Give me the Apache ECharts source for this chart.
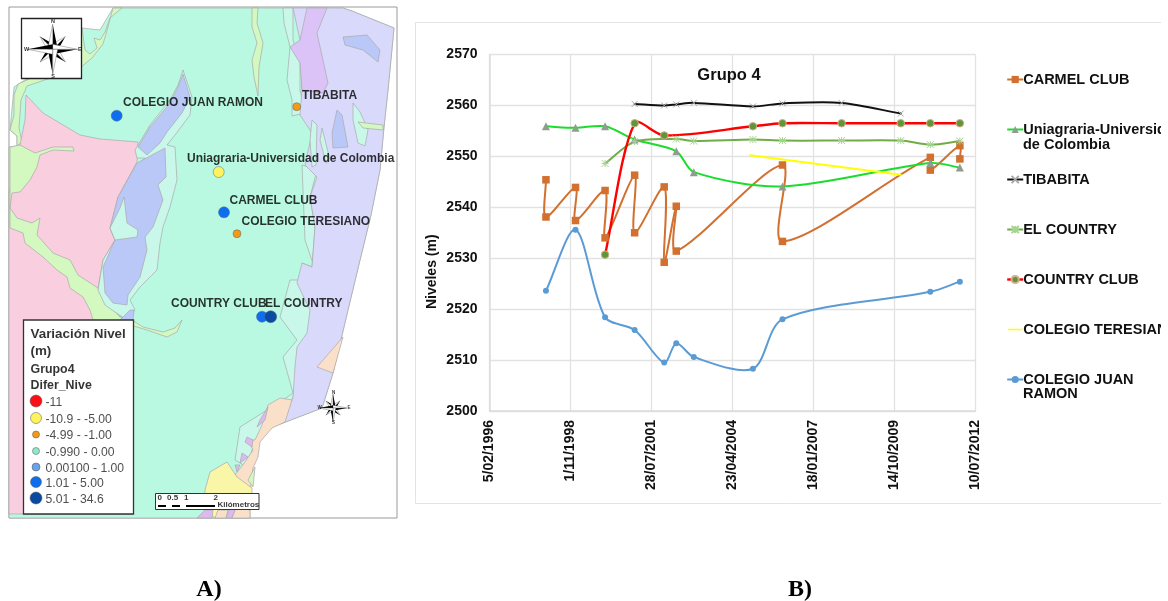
<!DOCTYPE html>
<html><head><meta charset="utf-8">
<style>html,body{margin:0;padding:0;background:#fff}#c{width:1168px;height:601px}</style>
<script src="https://cdn.jsdelivr.net/npm/echarts@6/dist/echarts.min.js"></script>
</head><body><div id="c"></div>
<script>
// ---- Chart B data: x = days since 5/02/1996, y = level (m)
const xTickLabels = ['5/02/1996','1/11/1998','28/07/2001','23/04/2004','18/01/2007','14/10/2009','10/07/2012'];
const carmelClub = [[697,2545.4],[697,2538.1],[1062,2543.9],[1062,2537.4],[1427,2543.3],[1427,2534],[1792,2546.3],[1792,2535],[2157,2544],[2157,2529.2],[2306,2540.2],[2306,2531.4],[3617,2548.3],[3617,2533.3],[5442,2549.8],[5442,2547.3],[5807,2552.1],[5807,2549.5]];
const uniagraria = [[697,2555.9],[1062,2555.6],[1427,2555.9],[1792,2553.3],[2306,2551],[2522,2546.9],[3617,2544.1],[5442,2548.7],[5807,2547.8]];
const tibabita = [[1792,2560.3],[2157,2560],[2306,2560.2],[2522,2560.5],[3252,2559.8],[3617,2560.4],[4347,2560.5],[5077,2558.4]];
const elCountry = [[1427,2548.6],[1792,2552.9],[2306,2553.4],[2522,2553],[3252,2553.3],[3617,2553.1],[4347,2553.1],[5077,2553.1],[5442,2552.3],[5807,2553]];
const countryClub = [[1427,2530.7],[1792,2556.5],[2157,2554.1],[3252,2555.9],[3617,2556.5],[4347,2556.5],[5077,2556.5],[5442,2556.5],[5807,2556.5]];
const colegioTeresiano = [[3216,2550.2],[5077,2546.4]];
const colegioJuanRamon = [[697,2523.6],[1062,2535.6],[1427,2518.4],[1792,2515.9],[2157,2509.5],[2306,2513.3],[2522,2510.6],[3252,2508.3],[3617,2518],[5442,2523.4],[5807,2525.4]];

// ---- Map A data (map sheet coordinates)
const regionLand = [[113,8],[343,8],[352,11],[394,28],[388,90],[384,127],[380,170],[371,215],[360,260],[348,310],[333,373],[322,408],[283,423],[263,430],[256,445],[253,465],[250,493],[250,518],[9,518],[9,147],[17,146],[17,136],[10,130],[14,87],[28,78],[82,60],[82,28],[100,30]];
const regionGreenNW = [[113,8],[122,8],[110,18],[105,32],[100,40],[94,38],[97,48],[90,54],[85,50],[82,28],[70,60],[27,80],[18,84],[14,95],[14,115],[10,130],[17,136],[17,146],[22,142],[19,128],[21,100],[27,86],[80,68],[92,58],[103,44],[106,34]];
const regionPink = [[26,95],[43,113],[80,135],[100,139],[138,142],[137,162],[118,197],[110,228],[115,240],[103,260],[98,288],[107,302],[120,317],[133,320],[133,514],[9,514],[9,193],[20,145],[25,120]];
const regionGreenBlob = [[10,147],[20,145],[35,153],[53,147],[73,147],[74,151],[53,150],[40,155],[37,167],[30,180],[20,192],[12,193],[10,208]];
const regionGreenDiag = [[10,208],[17,218],[32,223],[40,218],[37,235],[53,253],[70,260],[78,275],[98,288],[107,302],[120,317],[132,320],[143,327],[163,332],[175,328],[182,320],[177,332],[167,337],[147,330],[130,325],[93,320],[90,310],[83,297],[70,288],[67,277],[57,270],[43,257],[25,243],[23,233],[10,228]];
const regionPaleLake = [[135,150],[150,125],[170,100],[178,85],[183,70],[192,97],[190,115],[175,135],[167,145],[175,147],[177,180],[170,207],[163,227],[160,243],[157,270],[140,287],[130,300],[135,310],[127,320],[115,312],[105,305],[98,290],[103,260],[115,240],[137,165],[145,158],[137,158]];
const regionLakeN = [[183,74],[190,97],[182,113],[167,132],[160,143],[147,155],[138,147],[150,127],[170,103],[178,87]];
const regionLakeS = [[137,163],[165,148],[166,177],[158,185],[163,200],[153,227],[145,237],[147,250],[140,277],[128,295],[127,305],[113,303],[105,293],[103,267],[115,240],[110,228],[118,197]];
const regionPaleIsle = [[120,208],[124,197],[127,223],[138,230],[137,237],[115,240],[110,228]];
const regionLakeTip = [[130,310],[120,320],[133,320],[134,310]];
const regionLavender = [[293,8],[343,8],[352,11],[394,28],[388,90],[384,127],[380,170],[371,215],[360,260],[348,310],[333,373],[322,408],[283,423],[293,397],[295,367],[297,347],[307,333],[310,310],[297,283],[302,263],[312,267],[315,227],[310,197],[317,177],[305,165],[312,133],[300,115],[302,90],[300,40]];
const regionPaleEastN = [[283,8],[293,8],[293,40],[300,63],[300,90],[305,113],[292,116],[292,100],[287,80],[290,47],[284,23]];
const regionPaleEastS = [[302,165],[317,170],[310,197],[315,227],[312,267],[302,263],[310,280],[290,280],[280,317],[297,340],[283,357],[293,393],[283,400],[240,427],[235,460],[247,467],[252,450],[254,445],[263,430],[283,423],[293,397],[300,367],[312,340],[322,290],[305,240]];
const regionPurple = [[307,8],[327,8],[317,33],[328,83],[323,93],[302,90],[300,63],[290,47],[300,40]];
const regionBlueA = [[343,37],[367,35],[380,50],[378,62],[363,50],[345,45]];
const regionBlueB = [[337,110],[342,115],[348,147],[333,148],[332,133]];
const regionStreamN = [[252,8],[258,8],[257,23],[263,43],[259,67],[258,96],[254,77],[252,60],[257,43],[252,27]];
const regionStreamE = [[358,122],[383,125],[383,130],[363,128]];
const regionStripA = [[312,120],[317,125],[316,165],[312,167],[310,140]];
const regionStripB = [[322,128],[330,160],[326,163],[320,140]];
const regionStripC = [[353,103],[360,112],[366,125],[368,130],[365,146],[358,143],[353,120]];
const regionPeachA = [[343,337],[333,373],[317,367]];
const regionPeachB = [[292,400],[285,422],[272,428],[260,442],[258,457],[253,468],[250,493],[240,490],[235,475],[245,462],[253,450],[248,440],[255,440],[262,425],[268,405],[280,398]];
const regionPurpleA = [[268,407],[260,420],[257,427],[265,420]];
const regionPurpleB = [[247,437],[253,440],[252,447],[245,442]];
const regionPurpleC = [[242,453],[248,457],[240,463]];
const regionPurpleD = [[235,465],[240,465],[237,472]];
const regionGreenS = [[248,480],[255,467],[253,487]];
const regionYellow = [[205,490],[210,472],[227,462],[237,477],[252,488],[252,493],[225,505],[215,518],[205,509]];
const regionPurpleE = [[197,518],[205,510],[213,510],[212,518]];
const regionPeachC = [[215,518],[218,510],[228,510],[226,518]];
const regionPurpleF = [[226,518],[230,508],[236,508],[232,518]];
const regionPeachD = [[232,518],[236,508],[250,510],[250,518]];
const legendBoxShape = [[23.5,320],[133.5,320],[133.5,514],[23.5,514]];
const compassBoxShape = [[21.5,18.5],[81.5,18.5],[81.5,78.5],[21.5,78.5]];
const scaleBoxShape = [[155.5,493.5],[259,493.5],[259,509.5],[155.5,509.5]];
const scaleBarBlack = [[[158,505],[166,505],[166,507],[158,507]],[[172,505],[180,505],[180,507],[172,507]],[[186,505],[215,505],[215,507],[186,507]]];

const stations = [[116.7,115.7],[296.7,106.7],[218.7,172],[224,212.3],[237,233.7],[262,316.7],[270.7,316.7]];
const stationColors = ['#0f6ef0','#f29a14','#fdf35f','#0f6ef0','#f29a14','#0f6ef0','#0a4aa0'];
const stationSizes = [11,8,11,11,8,11,12];
const stationNames = ['COLEGIO JUAN RAMON','TIBABITA','Uniagraria-Universidad de Colombia','CARMEL CLUB','COLEGIO TERESIANO','COUNTRY CLUB','EL COUNTRY'];
const stationLabelAt = [[122.5,103],[301.5,95.5],[186.5,159],[229,200.3],[241,222],[170.5,304],[264.5,304]];
const classLabels = ['-11','-10.9 - -5.00','-4.99 - -1.00','-0.990 - 0.00','0.00100 - 1.00','1.01 - 5.00','5.01 - 34.6'];
const classColors = ['#fb0f17','#fdf35f','#f29a14','#8fe8cd','#6aa1ea','#0f6ef0','#0a4aa0'];
const classSizes = [12,11,7,7,8,11,12];
const classY = [401,418,434.5,451,467,482,498];

const FONT = '"Liberation Sans", Arial, sans-serif';
const starPath = 'path://M0 0L10 10M10 0L0 10M5 0L5 10M0 5L10 5';
const crossPath = 'path://M0 0L10 10M10 0L0 10';
const SMOOTH = 0.3;

// Spreadsheet-style smoothing: tangents are not clamped to the segment, so curves overshoot as in the original
function curveSeries(name, data, color, width) {
  return {type:'custom', name:name+' curve', xAxisIndex:0, yAxisIndex:0, coordinateSystem:'cartesian2d', z:2, clip:false, silent:true,
    data:[[data[0][0],data[0][1]]],
    renderItem:(p,api)=>{
      const P = data.map(d=>api.coord(d));
      const children = [];
      const tan = i => {
        const a=P[Math.max(i-1,0)], b=P[i], c=P[Math.min(i+1,P.length-1)];
        const l0=Math.hypot(b[0]-a[0],b[1]-a[1]), l1=Math.hypot(c[0]-b[0],c[1]-b[1]), t=l0+l1||1;
        return {vx:c[0]-a[0],vy:c[1]-a[1],rPrev:l0/t,rNext:l1/t};
      };
      for(let i=0;i<P.length-1;i++){
        const A=P[i],B=P[i+1],ta=tan(i),tb=tan(i+1);
        children.push({type:'bezierCurve',shape:{x1:A[0],y1:A[1],x2:B[0],y2:B[1],
          cpx1:A[0]+ta.vx*SMOOTH*ta.rNext,cpy1:A[1]+ta.vy*SMOOTH*ta.rNext,
          cpx2:B[0]-tb.vx*SMOOTH*tb.rPrev,cpy2:B[1]-tb.vy*SMOOTH*tb.rPrev},
          style:{stroke:color,lineWidth:width,fill:null,lineCap:'round'}});
      }
      return {type:'group',children};
    }};
}
function markerSeries(name, data, color, symbol, size, itemStyle) {
  return {type:'line', name, data, xAxisIndex:0, yAxisIndex:0,
    lineStyle:{color, width:2, opacity:0}, itemStyle:Object.assign({color}, itemStyle||{}),
    symbol:symbol||'none', symbolSize:size||0, showSymbol:!!symbol, showAllSymbol:true, clip:false, z:3};
}
const legendItem = (name,color,width,icon) => Object.assign({name,lineStyle:{color,width,opacity:1}},icon?{icon,itemStyle:{color}}:{});

// Compass rose as polygons around a centre (map coordinates)
function compass(cx, cy, a) {
  const out = [], w = a*0.2, d = a*0.72;
  const dirs = [[.707,-.707,d],[.707,.707,d],[-.707,.707,d],[-.707,-.707,d],[0,-1,a],[1,0,a],[0,1,a],[-1,0,a]];
  dirs.forEach(([ux,uy,l]) => {
    const px = -uy, py = ux, tip = [cx+ux*l, cy+uy*l];
    out.push({fill:'#000', pts:[[cx,cy],[cx+px*w,cy+py*w],tip]});
    out.push({fill:'#fff', pts:[[cx,cy],[cx-px*w,cy-py*w],tip], stroke:'#555'});
  });
  return out;
}

const C = {land:'#b9f9e1',pale:'#c9f8ea',green:'#d3f8c0',pink:'#f9cfdf',blue:'#bac8f8',lav:'#d9dafb',purple:'#dcc3f7',peach:'#fae0c9',yellow:'#f9f6a8',purple2:'#dfb8f2',edge:'#a9a9a9'};
const layers = [
 [regionLand,C.land],[regionGreenNW,C.green],[regionPink,C.pink],[regionGreenBlob,C.green],[regionGreenDiag,C.green],
 [regionPaleLake,C.pale],[regionLakeN,C.blue],[regionLakeS,C.blue],[regionPaleIsle,C.pale],[regionLakeTip,C.blue],
 [regionPaleEastN,C.pale],[regionPaleEastS,C.pale],[regionLavender,C.lav],[regionPurple,C.purple],[regionBlueA,C.blue],[regionBlueB,C.blue],
 [regionStreamN,C.green],[regionStripA,C.pale],[regionStripB,C.pale],[regionStripC,C.pale],[regionStreamE,C.green],
 [regionPeachA,C.peach],[regionPeachB,C.peach],[regionPurpleA,C.purple2],[regionPurpleB,C.purple2],[regionPurpleC,C.purple2],[regionPurpleD,C.purple2],
 [regionGreenS,C.green],[regionYellow,C.yellow],[regionPurpleE,C.purple2],[regionPeachC,C.peach],[regionPurpleF,C.purple2],[regionPeachD,C.peach]
].map(([pts,fill]) => ({pts,fill,stroke:C.edge,lw:0.7}));

const overlays = [
 {pts:compassBoxShape,fill:'#fff',stroke:'#222',lw:1.3},
 ...compass(52.7,49.3,25),
 ...compass(333,408,14),
 {pts:scaleBoxShape,fill:'#fff',stroke:'#333',lw:1},
 ...scaleBarBlack.map(pts=>({pts,fill:'#000'})),
 {pts:legendBoxShape,fill:'#fff',stroke:'#333',lw:1.3}
];
const allShapes = layers.concat(overlays);

function textItem(x,y,text,opt){
  return {value:[x,y], label:Object.assign({show:true,position:'right',distance:0,formatter:text,color:'#000',fontFamily:FONT,fontSize:12,fontWeight:'bold'},opt||{})};
}
const mapTexts = [
 ...stationNames.map((n,i)=>textItem(stationLabelAt[i][0],stationLabelAt[i][1],n)),
 textItem(30,334.5,'Variación Nivel',{fontSize:13.4}),
 textItem(30,351,'(m)',{fontSize:13.4}),
 textItem(30,369.5,'Grupo4',{fontSize:12.4}),
 textItem(30,386,'Difer_Nive',{fontSize:12.4}),
 ...classLabels.map((t,i)=>textItem(45,classY[i]+1.5,t,{fontWeight:'normal',fontSize:12.2,color:'#222'})),
 textItem(157,498,'0',{fontSize:8}),textItem(166.5,498,'0.5',{fontSize:8}),textItem(183.5,498,'1',{fontSize:8}),textItem(213,498,'2',{fontSize:8}),
 textItem(217,504.5,'Kilómetros',{fontSize:8}),
 textItem(50.5,21.5,'N',{fontSize:5.5}),textItem(50.7,76.5,'S',{fontSize:5.5}),textItem(77.5,49,'E',{fontSize:5.5}),textItem(23.5,49,'W',{fontSize:5.5}),
 textItem(331.5,393,'N',{fontSize:4.5}),textItem(331.5,423,'S',{fontSize:4.5}),textItem(347,408,'E',{fontSize:4.5}),textItem(317,408,'W',{fontSize:4.5})
];

const legendFirstLine = {'Uniagraria-Universidad de Colombia':'Uniagraria-Universidad','COLEGIO JUAN RAMON':'COLEGIO JUAN'};
const plainLineIcon = 'path://M0 0H.01V10H0ZM0 4.2H16V5.8H0Z';

const option = {
  animation:false, backgroundColor:'#fff',
  title:{text:'Grupo 4',left:729,top:67,padding:0,textAlign:'center',textStyle:{fontFamily:FONT,fontSize:16.5,fontWeight:'bold',color:'#111'}},
  grid:[
    {left:489.5,top:54.5,width:486,height:356.5,show:false},
    {left:9,top:7,width:388,height:511,show:true,borderColor:'#9a9a9a',borderWidth:1,backgroundColor:'#fff'}
  ],
  xAxis:[
    {type:'value',gridIndex:0,min:0,max:6000,interval:1000,
     axisLine:{show:true,onZero:false,lineStyle:{color:'#dcdcdc',width:1.5}},axisTick:{show:false},
     splitLine:{show:true,lineStyle:{color:'#e2e2e2',width:1.3}},
     axisLabel:{rotate:90,margin:9,fontFamily:FONT,fontWeight:'bold',fontSize:14,color:'#111',formatter:v=>xTickLabels[v/1000]}},
    {type:'value',gridIndex:1,min:9,max:397,show:false}
  ],
  yAxis:[
    {type:'value',gridIndex:0,min:2500,max:2570,interval:10,name:'Niveles (m)',nameLocation:'middle',nameGap:50,nameRotate:90,
     nameTextStyle:{fontFamily:FONT,fontWeight:'bold',fontSize:14,color:'#111',padding:[0,78,0,0]},
     axisLine:{show:true,lineStyle:{color:'#dcdcdc',width:1.5}},axisTick:{show:false},
     splitLine:{show:true,lineStyle:{color:'#e2e2e2',width:1.3}},
     axisLabel:{margin:12,fontFamily:FONT,fontWeight:'bold',fontSize:14,color:'#111',formatter:v=>String(v)}},
    {type:'value',gridIndex:1,min:7,max:518,inverse:true,show:false}
  ],
  legend:{left:1006,top:72,padding:0,orient:'vertical',itemGap:35,itemWidth:16,itemHeight:9,selectedMode:false,
    textStyle:{fontFamily:FONT,fontWeight:'bold',fontSize:14.5,color:'#111',padding:[0,0,0,-5],height:14,lineHeight:14},
    formatter:n=>legendFirstLine[n]||n,
    data:[legendItem('CARMEL CLUB','#d1702f',2),legendItem('Uniagraria-Universidad de Colombia','#1bdc2c',2),legendItem('TIBABITA','#111111',2),
      legendItem('EL COUNTRY','#70ad47',2),legendItem('COUNTRY CLUB','#ff0000',2.4),legendItem('COLEGIO TERESIANO','#ffff00',2,plainLineIcon),legendItem('COLEGIO JUAN RAMON','#5b9bd5',2)]},
  graphic:[
    {type:'rect',z:-1,shape:{x:415.5,y:22.5,width:746,height:481},style:{fill:'#fff',stroke:'#e3e3e3',lineWidth:1}},
    {type:'rect',z:100,zlevel:1,shape:{x:1161,y:0,width:7,height:601},style:{fill:'#fff'}},
    {type:'text',x:1023,y:145,z:10,style:{text:'de Colombia',font:'bold 14.5px '+FONT,fill:'#111',verticalAlign:'middle'}},
    {type:'text',x:1023,y:394,z:10,style:{text:'RAMON',font:'bold 14.5px '+FONT,fill:'#111',verticalAlign:'middle'}},
    {type:'text',x:209,y:590,z:10,style:{text:'A)',font:'bold 24px "Liberation Serif", serif',fill:'#000',align:'center',verticalAlign:'middle'}},
    {type:'text',x:800,y:590,z:10,style:{text:'B)',font:'bold 24px "Liberation Serif", serif',fill:'#000',align:'center',verticalAlign:'middle'}}
  ],
  series:[
    {type:'custom',name:'map',xAxisIndex:1,yAxisIndex:1,coordinateSystem:'cartesian2d',z:1,clip:false,silent:true,
     data:allShapes.map((s,i)=>[i]),encode:{x:0,y:0},
     renderItem:(p,api)=>{const s=allShapes[p.dataIndex];
       return {type:'polygon',shape:{points:s.pts.map(q=>api.coord(q))},style:{fill:s.fill,stroke:s.stroke||null,lineWidth:s.lw||0.4}};}},
    {type:'scatter',name:'stations',xAxisIndex:1,yAxisIndex:1,z:2,silent:true,
     data:stations.map((v,i)=>({value:v,symbolSize:stationSizes[i],itemStyle:{opacity:1,color:stationColors[i],borderColor:'#4a6a8a',borderWidth:0.5}}))},
    {type:'scatter',name:'classes',xAxisIndex:1,yAxisIndex:1,z:2,silent:true,
     data:classColors.map((c,i)=>({value:[36,classY[i]],symbolSize:classSizes[i],itemStyle:{opacity:1,color:c,borderColor:'#555',borderWidth:0.5}}))},
    {type:'scatter',name:'mapText',xAxisIndex:1,yAxisIndex:1,z:4,silent:true,symbolSize:1,itemStyle:{color:'transparent'},data:mapTexts},
    curveSeries('CARMEL CLUB',carmelClub,'#d1702f',2),
    curveSeries('Uniagraria',uniagraria,'#1bdc2c',2),
    curveSeries('TIBABITA',tibabita,'#111111',2),
    curveSeries('EL COUNTRY',elCountry,'#70ad47',2),
    curveSeries('COUNTRY CLUB',countryClub,'#ff0000',2.4),
    curveSeries('COLEGIO TERESIANO',colegioTeresiano,'#ffff00',2),
    curveSeries('COLEGIO JUAN RAMON',colegioJuanRamon,'#5b9bd5',2),
    markerSeries('CARMEL CLUB',carmelClub,'#d1702f','rect',7.5),
    markerSeries('Uniagraria-Universidad de Colombia',uniagraria,'#1bdc2c','triangle',8,{color:'#8f9c8f'}),
    markerSeries('TIBABITA',tibabita,'#111111',crossPath,6,{color:'none',borderColor:'#a8a8a8',borderWidth:1}),
    markerSeries('EL COUNTRY',elCountry,'#70ad47',starPath,7,{color:'none',borderColor:'#a5d58e',borderWidth:1}),
    markerSeries('COUNTRY CLUB',countryClub,'#ff0000','circle',7.5,{color:'#5f9638',borderColor:'#cdb08c',borderWidth:1}),
    markerSeries('COLEGIO TERESIANO',colegioTeresiano,'#ffff00',null,0),
    markerSeries('COLEGIO JUAN RAMON',colegioJuanRamon,'#5b9bd5','circle',6)
  ]
};
const chart = echarts.init(document.getElementById('c'),null,{renderer:'canvas'});
chart.setOption(option);
</script></body></html>
